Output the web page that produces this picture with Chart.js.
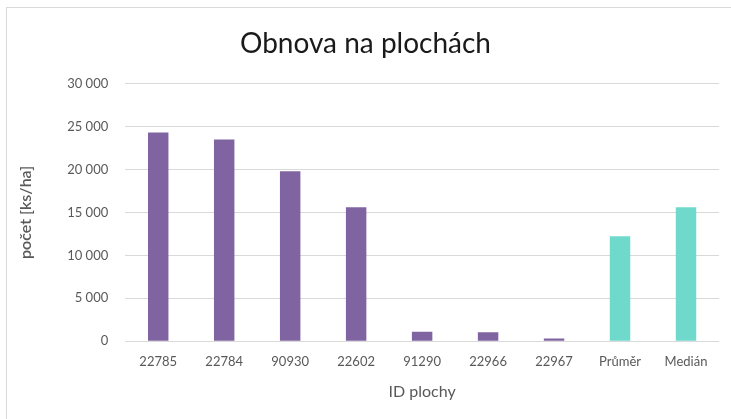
<!DOCTYPE html>
<html>
<head>
<meta charset="utf-8">
<script src="https://cdn.jsdelivr.net/npm/chart.js@4"></script>
<style>
  html, body { margin: 0; padding: 0; background: #fff; }
  #frame { position: absolute; left: 6px; top: 7px; width: 730px; height: 420px; border: 1px solid #d9d9d9; box-sizing: border-box; }
  #wrap { position: absolute; left: 0; top: 0; width: 731px; height: 419px; }
</style>
</head>
<body>
<div id="frame"></div>
<div id="wrap"><canvas id="obnovaChart"></canvas></div>
<script>
var categories = ['22785', '22784', '90930', '22602', '91290', '22966', '22967', 'Průměr', 'Medián'];
var counts = [24300, 23500, 19800, 15600, 1100, 1050, 300, 12236, 15600];
var yTicks = [0, 5000, 10000, 15000, 20000, 25000, 30000];

var purple = '#8064a2';
var teal = '#6fdacb';

document.addEventListener('DOMContentLoaded', function () {
    var colors = categories.map(function (c, i) { return i < 7 ? purple : teal; });
    var ctx = document.getElementById('obnovaChart').getContext('2d');
    new Chart(ctx, {
        type: 'bar',
        data: {
            labels: categories,
            datasets: [{
                label: 'počet',
                data: counts,
                backgroundColor: colors,
                borderWidth: 0,
                categoryPercentage: 1,
                barPercentage: 0.31
            }]
        },
        options: {
            responsive: true,
            maintainAspectRatio: false,
            animation: false,
            layout: { padding: { left: 12, right: 12, top: 27, bottom: 14 } },
            plugins: {
                legend: { display: false },
                tooltip: { enabled: false },
                title: {
                    display: true,
                    text: 'Obnova na plochách',
                    color: '#1a1a1a',
                    font: { family: 'Lato', size: 28, weight: 'normal' },
                    padding: { top: 0, bottom: 23 }
                }
            },
            scales: {
                x: {
                    grid: { display: false },
                    border: { display: false },
                    ticks: { color: '#595959', font: { family: 'Lato', size: 13 }, padding: 5 },
                    title: {
                        display: true,
                        text: 'ID plochy',
                        color: '#595959',
                        font: { family: 'Lato', size: 16 },
                        padding: { top: 7 }
                    }
                },
                y: {
                    min: 0,
                    max: 30000,
                    afterBuildTicks: function (axis) {
                        axis.ticks = yTicks.map(function (v) { return { value: v }; });
                    },
                    grid: { color: '#d9d9d9', drawTicks: false },
                    border: { display: false },
                    ticks: {
                        color: '#595959',
                        font: { family: 'Lato', size: 13 },
                        padding: 17,
                        callback: function (v) {
                            return String(v).replace(/\B(?=(\d{3})+(?!\d))/g, ' ');
                        }
                    },
                    title: {
                        display: true,
                        text: 'počet [ks/ha]',
                        color: '#595959',
                        font: { family: 'Lato', size: 16, weight: '600' },
                        padding: { bottom: 15 }
                    }
                }
            }
        }
    });
});
</script>
</body>
</html>
